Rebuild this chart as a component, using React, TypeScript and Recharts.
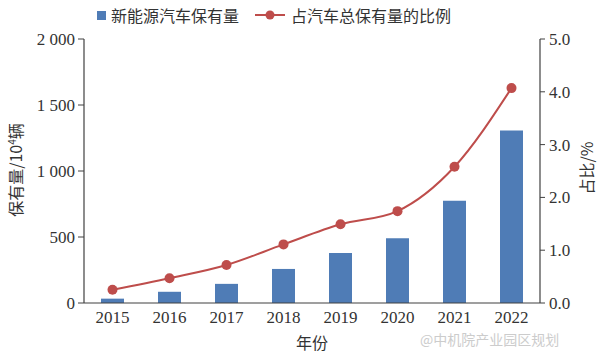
import React from "react"
import { ComposedChart, Bar, Line, XAxis, YAxis, Legend, Label } from "recharts"

// 新能源汽车保有量 (10^4 辆) and its share of all vehicles (%)
const years = ["2015", "2016", "2017", "2018", "2019", "2020", "2021", "2022"]
const stock = [33, 85, 145, 258, 378, 490, 775, 1306]
const share = [0.25, 0.47, 0.72, 1.11, 1.49, 1.74, 2.58, 4.07]
const leftTicks = [0, 500, 1000, 1500, 2000]
const rightTicks = [0, 1, 2, 3, 4, 5]

const data = years.map((year, i) => ({ year, stock: stock[i], share: share[i] }))

const BLUE = "#4f7cb6"
const RED = "#be4d4b"
const TEXT = "#333333"
const AXIS = "#404040"
const NUM_FONT = "'Liberation Serif', 'DejaVu Serif', serif"
const CJK_FONT = "'Noto Sans CJK SC', sans-serif"

const fmtThousands = (v: number) => (v >= 1000 ? `${Math.floor(v / 1000)} ${String(v % 1000).padStart(3, "0")}` : String(v))

const renderLegend = () => (
  <div style={{ display: "flex", alignItems: "center", height: 30, fontFamily: CJK_FONT, fontSize: 16, color: TEXT }}>
    <span style={{ width: 9, height: 9, background: BLUE, display: "inline-block", marginRight: 5 }} />
    <span>新能源汽车保有量</span>
    <svg width={30} height={12} style={{ marginLeft: 16, marginRight: 6 }}>
      <line x1={0} y1={6} x2={30} y2={6} stroke={RED} strokeWidth={2} />
      <circle cx={15} cy={6} r={4.5} fill={RED} />
    </svg>
    <span>占汽车总保有量的比例</span>
  </div>
)

export default function App() {
  return (
    <div style={{ position: "absolute", left: 0, top: 0, width: 605, height: 355, background: "#fff" }}>
      <ComposedChart width={605} height={355} data={data} margin={{ top: 9, right: 0, bottom: 0, left: 0 }}>
        <Legend verticalAlign="top" align="left" content={renderLegend} wrapperStyle={{ top: 0, left: 97, width: 420, height: 30 }} />
        <XAxis
          dataKey="year"
          height={52}
          tickLine={false}
          tickSize={0}
          tickMargin={8}
          axisLine={{ stroke: AXIS, strokeWidth: 1.2 }}
          tick={{ fill: TEXT, fontSize: 17, fontFamily: NUM_FONT }}
        >
          <Label
            content={() => (
              <text x={312} y={349} textAnchor="middle" fontSize={16} fontFamily={CJK_FONT} fill={TEXT}>
                年份
              </text>
            )}
          />
        </XAxis>
        <YAxis
          yAxisId="left"
          width={84}
          domain={[0, 2000]}
          ticks={leftTicks}
          tickFormatter={fmtThousands}
          tickSize={6}
          tickMargin={3}
          interval={0}
          axisLine={{ stroke: AXIS, strokeWidth: 1.2 }}
          tickLine={{ stroke: AXIS }}
          tick={{ fill: TEXT, fontSize: 17, fontFamily: NUM_FONT }}
        >
          <Label
            content={() => (
              <text x={22} y={170} textAnchor="middle" fontSize={16} fontFamily={CJK_FONT} fill={TEXT} transform="rotate(-90, 22, 170)">
                保有量/10<tspan fontSize={10} dy={-6}>4</tspan><tspan dy={6}>辆</tspan>
              </text>
            )}
          />
        </YAxis>
        <YAxis
          yAxisId="right"
          orientation="right"
          width={65}
          domain={[0, 5]}
          ticks={rightTicks}
          tickFormatter={(v: number) => v.toFixed(1)}
          tickSize={5}
          tickMargin={4}
          interval={0}
          axisLine={{ stroke: AXIS, strokeWidth: 1.2 }}
          tickLine={{ stroke: AXIS }}
          tick={{ fill: TEXT, fontSize: 17, fontFamily: NUM_FONT }}
        >
          <Label
            content={() => (
              <text x={593} y={168} textAnchor="middle" fontSize={16} fontFamily={CJK_FONT} fill={TEXT} transform="rotate(-90, 593, 168)">
                占比/%
              </text>
            )}
          />
        </YAxis>
        <Bar yAxisId="left" dataKey="stock" fill={BLUE} barSize={23} isAnimationActive={false} />
        <Line
          yAxisId="right"
          type="monotone"
          dataKey="share"
          stroke={RED}
          strokeWidth={2}
          dot={{ r: 5, fill: RED, stroke: RED, strokeWidth: 0 }}
          activeDot={false}
          isAnimationActive={false}
        />
      </ComposedChart>
      <div
        style={{
          position: "absolute",
          left: 420,
          top: 331,
          lineHeight: "16px",
          fontFamily: CJK_FONT,
          fontSize: 14,
          color: "#cccccc",
        }}
      >
        @中机院产业园区规划
      </div>
    </div>
  )
}
